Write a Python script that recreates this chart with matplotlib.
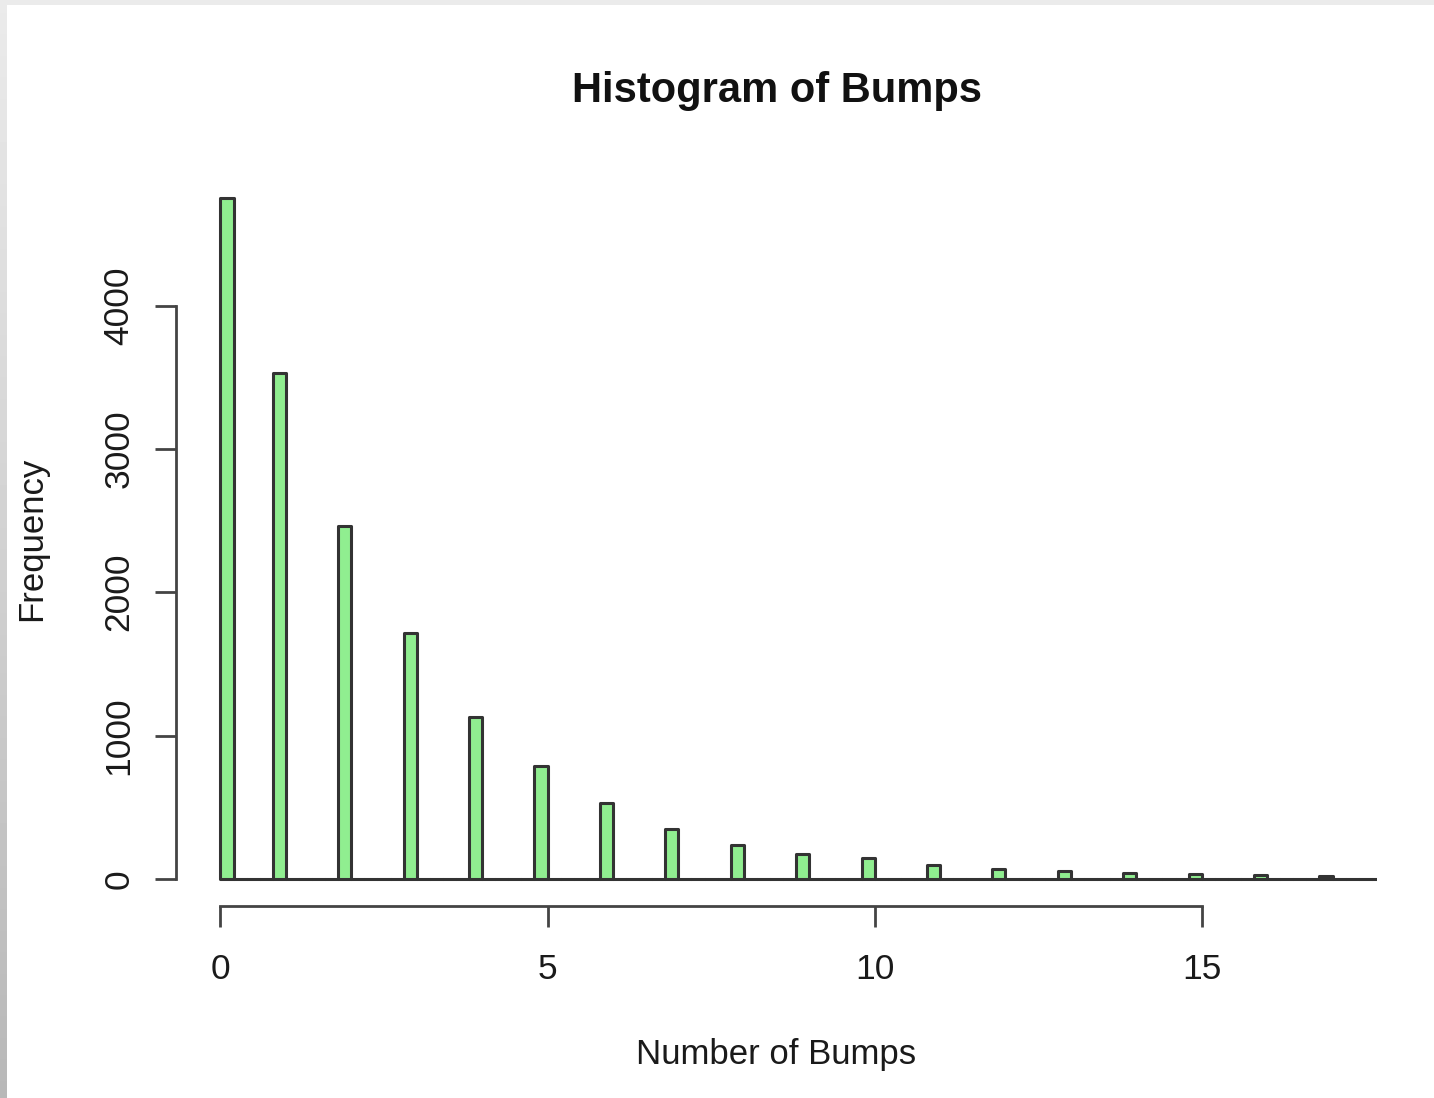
import numpy as np
import matplotlib
matplotlib.use("Agg")
import matplotlib.pyplot as plt

plt.rcParams['font.family'] = ['Liberation Sans', 'DejaVu Sans']

# Number of bumps observed and how often each count occurred
bumps = list(range(18))
frequency = [4750, 3530, 2460, 1715, 1130, 785, 527, 348, 238, 176,
             145, 98, 68, 56, 40, 32, 25, 20]

bin_width = 0.2
last_break = 18.0
x_ticks = [0, 5, 10, 15]
y_ticks = [0, 1000, 2000, 3000, 4000]

# Right-closed bins (k - 0.2, k]; the first bin also holds 0
edges = np.arange(0, last_break + 1e-9, bin_width)
heights = np.zeros(len(edges) - 1)
for k, f in zip(bumps, frequency):
    idx = 0 if k == 0 else int(round(k / bin_width)) - 1
    heights[idx] += f

fig = plt.figure(figsize=(14.34, 10.98), dpi=100)
fig.patch.set_facecolor('white')

# page edge shading
edge_ax = fig.add_axes([0, 0, 7 / 1434, 1])
grad = np.linspace(0.92, 0.72, 256).reshape(-1, 1)
edge_ax.imshow(grad, aspect='auto', cmap='gray', vmin=0, vmax=1,
               extent=[0, 1, 0, 1])
edge_ax.axis('off')
top_ax = fig.add_axes([0, 1 - 5 / 1098, 1, 5 / 1098])
top_ax.set_facecolor('#ebebeb')
top_ax.set_xticks([]); top_ax.set_yticks([])
for s in top_ax.spines.values():
    s.set_visible(False)

ax = fig.add_axes([176 / 1434, 1 - 906 / 1098,
                   (1377 - 176) / 1434, (906 - 171) / 1098])
ax.set_facecolor('none')

bars = ax.bar(edges[:-1], heights, width=bin_width, align='edge',
              color='#90EE90', edgecolor='#333333', linewidth=2.2, zorder=3)
for b in bars:
    b.set_joinstyle('round')
    b.set_capstyle('round')

xr = max(bumps) - min(bumps)
ax.set_xlim(min(bumps) - 0.04 * xr, max(bumps) + 0.04 * xr)
ymax = max(frequency)
ax.set_ylim(-0.04 * ymax, 1.04 * ymax)

for side in ('top', 'right'):
    ax.spines[side].set_visible(False)
ax.spines['bottom'].set_bounds(x_ticks[0], x_ticks[-1])
ax.spines['left'].set_bounds(y_ticks[0], y_ticks[-1])
for side in ('bottom', 'left'):
    ax.spines[side].set_color('#444444')
    ax.spines[side].set_linewidth(2.0)

ax.set_xticks(x_ticks)
ax.set_xticklabels([str(v) for v in x_ticks])
ax.set_yticks(y_ticks)
ax.set_yticklabels([str(v) for v in y_ticks], rotation=90, va='center')
ax.tick_params(axis='both', length=15, width=2.0, color='#444444',
               labelsize=25.5, labelcolor='#1a1a1a')
ax.tick_params(axis='x', pad=19)
ax.tick_params(axis='y', pad=14)

ax.set_xlabel('Number of Bumps', fontsize=25, color='#1a1a1a', labelpad=37)
ax.set_ylabel('Frequency', fontsize=25, color='#1a1a1a', labelpad=39)
ax.set_title('Histogram of Bumps', fontsize=30, fontweight='bold',
             color='#111111', pad=50)

fig.savefig('out.png', dpi=100, facecolor='white')
